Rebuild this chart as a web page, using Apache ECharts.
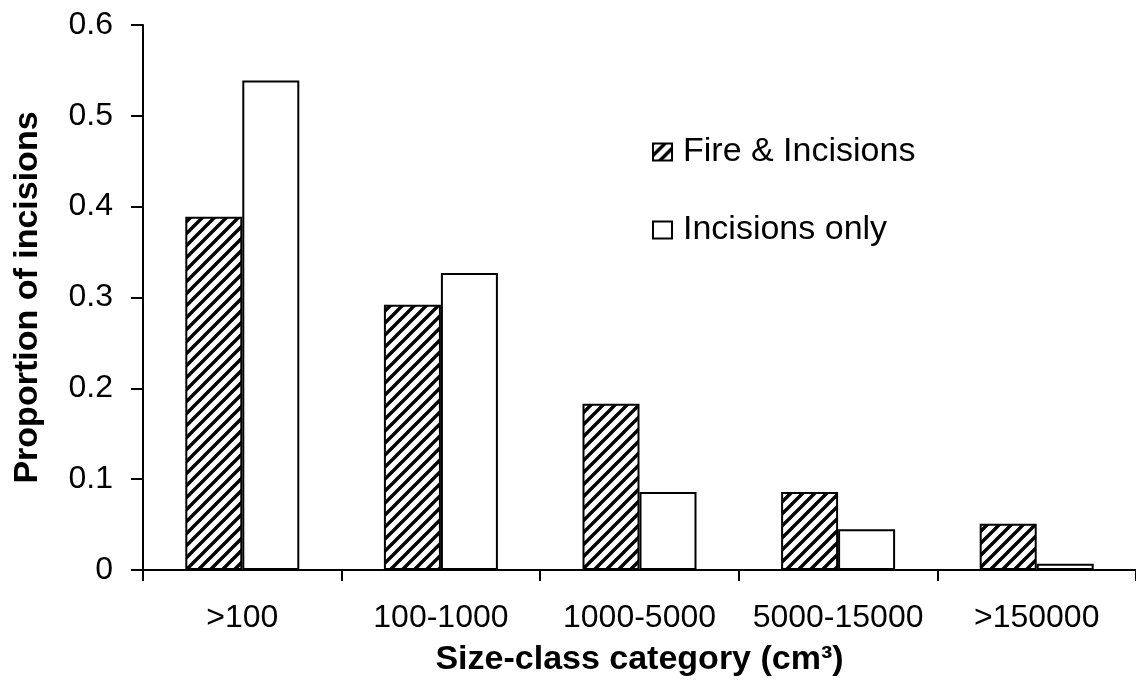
<!DOCTYPE html>
<html>
<head>
<meta charset="utf-8">
<script src="https://cdn.jsdelivr.net/npm/echarts@6/dist/echarts.min.js"></script>
<style>html,body{margin:0;padding:0;background:#fff}#c{width:1136px;height:687px}</style>
</head>
<body>
<div id="c"></div>
<script>
const categories = ['>100', '100-1000', '1000-5000', '5000-15000', '>150000'];
const fireIncisions = [0.389, 0.292, 0.183, 0.086, 0.051];
const incisionsOnly = [0.539, 0.327, 0.086, 0.045, 0.007];
const yTickLabels = ['0', '0.1', '0.2', '0.3', '0.4', '0.5', '0.6'];
const seriesNames = ['Fire & Incisions', 'Incisions only'];

function hatch() {
  const s = 12;
  const c = document.createElement('canvas');
  c.width = s; c.height = s;
  const g = c.getContext('2d');
  g.fillStyle = '#fff'; g.fillRect(0, 0, s, s);
  g.strokeStyle = '#000'; g.lineWidth = 3.4; g.lineCap = 'square';
  g.beginPath();
  g.moveTo(-2, s + 2); g.lineTo(s + 2, -2);
  g.moveTo(-2, 2); g.lineTo(2, -2);
  g.moveTo(s - 2, s + 2); g.lineTo(s + 2, s - 2);
  g.stroke();
  return c;
}

const font = '"Liberation Sans", Arial, sans-serif';
const legendCommon = {
  left: 652, padding: 0, icon: 'rect', itemWidth: 19, itemHeight: 17,
  textStyle: {fontFamily: font, fontSize: 34, color: '#000', padding: [0, 0, 0, 6]}
};
const chart = echarts.init(document.getElementById('c'), null, {renderer: 'canvas'});
chart.setOption({
  backgroundColor: '#fff',
  animation: false,
  grid: {left: 143, right: 0, top: 25, bottom: 117, containLabel: false},
  legend: [
    Object.assign({data: [seriesNames[0]], top: 135}, legendCommon),
    Object.assign({data: [seriesNames[1]], top: 213}, legendCommon)
  ],
  xAxis: {
    type: 'category',
    data: categories,
    boundaryGap: true,
    axisLine: {lineStyle: {color: '#000', width: 2}},
    axisTick: {show: true, length: 11, lineStyle: {color: '#000', width: 2}},
    axisLabel: {fontFamily: font, fontSize: 32, color: '#000', margin: 32, interval: 0},
    name: 'Size-class category (cm³)',
    nameLocation: 'middle',
    nameGap: 73,
    nameTextStyle: {fontFamily: font, fontSize: 34, fontWeight: 'bold', color: '#000'}
  },
  yAxis: {
    type: 'value',
    min: 0, max: 0.6, interval: 0.1,
    splitLine: {show: false},
    axisLine: {show: true, lineStyle: {color: '#000', width: 2}},
    axisTick: {show: true, length: 12, lineStyle: {color: '#000', width: 2}},
    axisLabel: {fontFamily: font, fontSize: 32, color: '#000', margin: 30,
      formatter: function (v) { return yTickLabels[Math.round(v * 10)]; }},
    name: 'Proportion of incisions',
    nameLocation: 'middle',
    nameGap: 98,
    nameTextStyle: {fontFamily: font, fontSize: 34, fontWeight: 'bold', color: '#000'}
  },
  series: [
    {name: seriesNames[0], type: 'bar', data: fireIncisions, barGap: '0%', barCategoryGap: '42.6%',
     itemStyle: {color: {image: hatch(), repeat: 'repeat'}, borderColor: '#000', borderWidth: 2}},
    {name: seriesNames[1], type: 'bar', data: incisionsOnly, barGap: '0%', barCategoryGap: '42.6%',
     itemStyle: {color: '#fff', borderColor: '#000', borderWidth: 2}}
  ]
});
</script>
</body>
</html>
